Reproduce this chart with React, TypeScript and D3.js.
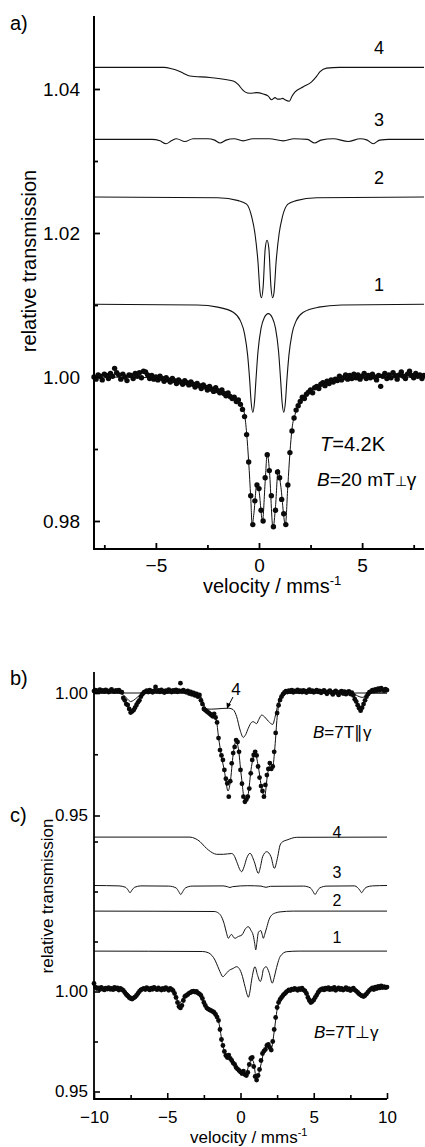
import { useEffect, useRef } from 'react'
import * as d3 from 'd3'

// Mössbauer spectra. Measured values are stored as (T - 1) x 10^4.
// velocity channels (mm/s)
const aVel = d3.range(161).map((i) => -8 + i * 0.1)
const bcVel = d3.range(201).map((i) => -10 + i * 0.1)

// panel a, T = 4.2 K, B = 20 mT
const aObs = [
  0, -3, 3, 1, -4, 4, 2, -2, 5, 1, 12, 6, 3, -3, 4, 0, -5, 3, 2, -2, 5, 1, 6, -1, 8, 7, 3, -2, 2, -3, 0,
  -4, 1, -2, -6, -1, -4, -7, -2, -5, -9, -4, -7, -10, -5, -8, -11, -7, -10, -14, -9,
  -12, -16, -11, -14, -18, -13, -17, -20, -15, -19, -22, -18, -23, -26, -22, -27, -30, -28, -34, -32,
  -38, -45, -55, -80, -118, -165, -205, -172, -150,
  -155, -185, -200, -140, -108, -130, -165, -208, -185, -132, -140, -170, -190, -205, -150, -105, -75, -57, -46, -40, -34,
  -28, -30, -24, -21, -18, -22, -15, -13, -16, -10, -8, -12, -6, -9, -4, -7, -3, -5, 1, -4,
  -1, 3, -3, 2, -2, 4, -1, 3, -3, 1, 5, -2, 2, -1, 4, 0, -4, 2, -13, 1,
  5, -2, 3, -1, 6, 2, -3, 3, 7, 1, -2, 4, 8, 2, -1, 5, 1, 3, -2, 2,
]
const aFit: [number, number][] = [
  [-8, 0], [-5, -1], [-4, -4], [-3, -9], [-2, -17], [-1.3, -27], [-0.9, -36], [-0.7, -52], [-0.6, -78],
  [-0.5, -118], [-0.4, -168], [-0.33, -206], [-0.25, -190], [-0.1, -148], [0, -158], [0.17, -200],
  [0.3, -145], [0.4, -106], [0.5, -128], [0.68, -210], [0.8, -180], [0.93, -128], [1.05, -150],
  [1.28, -205], [1.4, -150], [1.5, -105], [1.6, -72], [1.75, -52], [2, -35], [2.3, -26], [2.5, -20],
  [2.8, -14], [3.2, -9], [4, -4], [5, -1], [8, 0],
]
const aSub1: [number, number][] = [
  [-8, 101], [-3, 100], [-2, 97], [-1.25, 90], [-0.9, 78], [-0.7, 60], [-0.55, 30], [-0.45, -5],
  [-0.38, -35], [-0.3, -49], [-0.22, -35], [-0.15, -5], [-0.05, 35], [0.1, 68], [0.25, 82], [0.45, 88],
  [0.65, 82], [0.8, 68], [0.95, 35], [1.05, -5], [1.12, -35], [1.2, -49], [1.28, -35], [1.35, -5],
  [1.45, 30], [1.6, 60], [1.8, 78], [2.15, 90], [2.9, 97], [4, 100], [8, 101],
]
const aSub2: [number, number][] = [
  [-8, 250], [-2, 249], [-1, 245], [-0.6, 240], [-0.35, 222], [-0.2, 200], [-0.05, 160], [0.05, 118],
  [0.12, 110], [0.2, 125], [0.3, 178], [0.39, 190], [0.48, 178], [0.58, 125], [0.66, 110], [0.73, 118],
  [0.83, 160], [0.98, 200], [1.13, 222], [1.4, 240], [1.8, 245], [2.8, 249], [8, 250],
]
const aSub3: [number, number][] = [
  [-8, 330], [-5.2, 330], [-4.8, 328], [-4.51, 324], [-4.25, 328], [-4, 331], [-3.59, 327], [-3.2, 331],
  [-2.5, 331], [-2.15, 329], [-1.89, 325], [-1.6, 329], [-1.2, 331], [-0.77, 328], [-0.3, 331], [0.5, 331],
  [1.18, 328], [1.7, 331], [2.35, 330], [2.7, 325], [3, 329], [3.6, 331], [4.33, 327], [4.9, 331],
  [5.25, 329], [5.54, 324], [5.85, 329], [6.3, 330], [8, 330],
]
const aSub4: [number, number][] = [
  [-8, 430], [-4.6, 430], [-4.23, 428], [-3.9, 425], [-3.67, 422], [-3.35, 418], [-2.38, 416],
  [-1.25, 411], [-1, 406], [-0.8, 399], [-0.68, 396], [-0.44, 394], [-0.11, 395], [0.21, 393],
  [0.45, 390], [0.61, 385], [0.78, 388], [0.9, 386], [1.02, 386], [1.15, 387], [1.26, 385], [1.47, 383],
  [1.6, 390], [1.75, 396], [2.15, 403], [2.55, 410], [2.8, 418], [2.96, 424], [3.28, 429], [3.9, 430], [8, 430],
]

// panel b, B = 7 T parallel
const bObs = [
  8, 12, 5, 10, 14, 7, 11, 6, 13, 9, 4, 10, 15, 8, 6, 11, 7, 12, 5, 3,
  -20, -30, -45, -49, -65, -80, -75, -70, -60, -49, -38, -30, -15, -5, 2,
  6, 10, 4, 12, 8, 3, 9, 25, 7, 11, 5, 13, 8, 2, 10, 6, 14, 9, 4, 11, 7, 13, 5, 10, 40, 8, 12, 6, 3, 9,
  -2, 4, -6, 0, -10, -4, -15, -8,
  -30, -45, -65, -70, -75, -80, -85, -90, -95, -85, -100, -120,
  -184, -233, -255, -273, -314, -350, -369, -423, -360, -287, -245, -220, -192, -200, -240,
  -314, -370, -423, -444, -435, -423, -390, -328, -273, -253, -240, -255, -300, -345, -380,
  -400, -423, -375, -335, -310, -286, -310, -300, -240, -163, -82, -50, -29, -15, -5,
  2, 8, 4, 10, 6, 12, 3, 9, 7, 13, 5, 10, 4, 11, 8, 2, 9, 14, 6, 10, 3, 8, 12, 5, 9, 1, 7, 11, 4, -3,
  6, 10, 2, -6, 5, 9, 0, -8, 4, 8, -2, 6, -5, 3, 7, -4, 1,
  -10, -25, -35, -50, -62, -72, -60, -45, -30, -15, -5, 3,
  6, 12, 8, 15, 10, 18, 12, 20, 14, 10, 16, 12,
]
const bFit: [number, number][] = [
  [-10, 0], [-8.3, 0], [-8, -8], [-7.7, -25], [-7.5, -35], [-7.3, -30], [-7, -15], [-6.7, -3], [-6.3, 0],
  [-3, 0], [-2.8, -5], [-2.6, -30], [-2.4, -60], [-2.1, -75], [-1.9, -85], [-1.65, -110], [-1.5, -180],
  [-1.3, -258], [-1.1, -318], [-0.85, -400], [-0.7, -365], [-0.5, -250], [-0.3, -195], [-0.15, -225],
  [0.05, -335], [0.3, -440], [0.5, -420], [0.75, -300], [1, -245], [1.2, -295], [1.45, -390], [1.65, -420],
  [1.85, -330], [2.05, -290], [2.2, -300], [2.35, -220], [2.5, -100], [2.65, -40], [2.9, -12], [3.3, 0],
  [7.6, 0], [8, -12], [8.3, -18], [8.6, -12], [9, 0], [10, 0],
]
const bSub4: [number, number][] = [
  [-10, 0], [-3, 0], [-2.8, -8], [-2.6, -40], [-2.42, -65], [-2, -66], [-1.2, -63], [-0.8, -62],
  [-0.5, -68], [-0.26, -97], [-0.03, -151], [0.19, -181], [0.35, -170], [0.53, -144], [0.75, -120],
  [0.87, -117], [1, -122], [1.1, -125], [1.25, -108], [1.45, -90], [1.65, -98], [1.9, -115], [2.2, -128],
  [2.35, -100], [2.47, -69], [2.65, -22], [2.8, -6], [3, 0], [10, 0],
]

// panel c, B = 7 T perpendicular
const cObs = [
  40, 22, 15, 18, 10, 20, 14, 8, 17, 12, 19, 11, 16, 9, 21, 13, 18, 7, 15, 10,
  5, -5, -15, -22, -30, -35, -38, -33, -28, -20, -10, 0, 8, 12,
  16, 10, 19, 13, 8, 17, 11, 20, 14, 9, 18, 12, 7, 15, 10, 19, 13, 6, 16, 11, 4,
  -10, -30, -55, -75, -82, -70, -45, -25,
  -20, -15, -8, -5, 0, 2, -3, 1, -8, -12, -20, -35,
  -55, -70, -83, -88, -92, -96, -100, -105, -115, -128, -145,
  -190, -240, -270, -300, -320, -330, -318, -335, -345, -358, -365, -380, -388, -395,
  -402, -410, -398, -415, -420, -405, -365, -335, -330, -375,
  -425, -443, -420, -390, -345, -310, -298, -290, -270, -265,
  -280, -293, -250, -190, -130, -80, -55, -40, -30, -20,
  -12, -5, 2, 8, 5, 12, 9, 15, 11, 6, 14, 10, 17, 8, 3,
  -10, -30, -45, -55, -50, -42, -30, -18, -5, 5, 10,
  14, 8, 17, 12, 19, 9, 15, 11, 20, 6, 13, 18, 10, 16, 7, 12, 19, 9, 14, 5, 11, 17, 8, 2,
  -5, -12, -18, -22, -25, -20, -12, -3, 6,
  12, 18, 10, 22, 15, 25, 18, 28, 20, 24, 19, 22,
]
const cFit: [number, number][] = [
  [-10, 15], [-8.2, 15], [-7.8, 0], [-7.4, -25], [-7, -5], [-6.6, 14], [-4.8, 14], [-4.45, -15],
  [-4.18, -60], [-3.9, -30], [-3.5, -5], [-3, 2], [-2.7, -15], [-2.4, -65], [-2, -92], [-1.65, -115],
  [-1.45, -165], [-1.25, -255], [-1, -315], [-0.7, -335], [-0.3, -375], [0, -400], [0.35, -418],
  [0.65, -350], [0.85, -345], [1.1, -440], [1.35, -380], [1.6, -300], [1.9, -268], [2.1, -285],
  [2.3, -200], [2.5, -90], [2.7, -40], [3, -10], [3.4, 8], [4.4, 10], [4.85, -40], [5.2, -20],
  [5.6, 12], [7.8, 12], [8.3, -15], [8.7, 0], [9.2, 18], [10, 20],
]
const cSub1: [number, number][] = [
  [-10, 202], [-2.6, 200], [-2.2, 194], [-1.95, 180], [-1.74, 157], [-1.55, 125], [-1.4, 99], [-1.2, 74],
  [-1, 88], [-0.83, 102], [-0.49, 116], [-0.26, 124], [-0.05, 110], [0.08, 88], [0.31, 24], [0.45, -15],
  [0.53, -29], [0.62, -10], [0.76, 57], [0.99, 124], [1.15, 85], [1.35, 50], [1.45, 68], [1.56, 110],
  [1.75, 124], [1.95, 95], [2.17, 42], [2.3, 70], [2.42, 107], [2.6, 155], [2.7, 174], [3.15, 199],
  [4, 202], [10, 202],
]
const cSub2: [number, number][] = [
  [-10, 402], [-1.8, 400], [-1.5, 392], [-1.3, 374], [-1.1, 335], [-0.95, 291], [-0.83, 266], [-0.7, 280],
  [-0.6, 285], [-0.48, 272], [-0.38, 266], [-0.15, 275], [0.1, 283], [0.35, 315], [0.53, 324],
  [0.72, 305], [0.87, 280], [0.97, 240], [1.04, 208], [1.12, 245], [1.22, 295], [1.38, 305], [1.48, 285],
  [1.56, 266], [1.65, 285], [1.79, 320], [1.95, 360], [2.13, 382], [2.4, 393], [2.7, 398], [3.6, 402],
  [10, 402],
]
const cSub3: [number, number][] = [
  [-10, 530], [-8.3, 528], [-7.85, 521], [-7.68, 508], [-7.54, 494], [-7.4, 508], [-7.23, 521],
  [-6.8, 528], [-4.9, 527], [-4.4, 518], [-4.22, 500], [-4.08, 485], [-3.94, 500], [-3.76, 518],
  [-3.3, 527], [-1.2, 528], [-0.9, 524], [-0.72, 520], [-0.55, 524], [0.5, 529], [1.4, 527], [1.74, 521],
  [2.05, 526], [4.3, 527], [4.77, 518], [4.95, 500], [5.09, 485], [5.23, 500], [5.41, 518], [5.9, 527],
  [7.8, 528], [7.97, 521], [8.13, 508], [8.27, 494], [8.41, 508], [8.58, 521], [9, 528], [10, 530],
]
const cSub4: [number, number][] = [
  [-10, 772], [-3.45, 772], [-3.1, 765], [-2.76, 749], [-2.45, 725], [-2.2, 708], [-1.9, 693],
  [-1.63, 686], [-1.17, 686], [-0.6, 690], [-0.4, 675], [-0.26, 649], [0.08, 599], [0.25, 625],
  [0.42, 666], [0.65, 691], [0.94, 649], [1.22, 591], [1.38, 630], [1.51, 674], [1.79, 699], [2.08, 674],
  [2.31, 616], [2.54, 674], [2.7, 732], [2.9, 750], [3.15, 757], [3.84, 771], [10, 772],
]

// axis ticks
const aYTicks = [0.98, 1.0, 1.02, 1.04]
const aYMinor = [0.99, 1.01, 1.03]
const aXTicks = [-5, 0, 5]
const aXMinor = [-7.5, -2.5, 2.5, 7.5]
const bYTicks = [0.95, 1.0]
const bYMinor = [0.975]
const cYTicks = [0.95, 1.0]
const cYMinor = [0.975, 1.025, 1.05, 1.075]
const bcXTicks = [-10, -5, 0, 5, 10]
const bcXMinor = [-7.5, -2.5, 2.5, 7.5]
const subLabels = ['1', '2', '3', '4']

const FONT = '"Liberation Sans", Arial, Helvetica, sans-serif'
const T = (d: number) => 1 + d / 1e4

export default function App() {
  const ref = useRef<SVGSVGElement>(null)

  useEffect(() => {
    const svg = d3.select(ref.current)
    svg.selectAll('*').remove()
    svg.attr('font-family', FONT)

    const xA = d3.scaleLinear([-8, 8], [94, 424])
    const yA = d3.scaleLinear([0.98, 1.04], [521, 89])
    const xBC = d3.scaleLinear([-10, 10], [94, 387])
    const yB = d3.scaleLinear([0.95, 1.0], [815.5, 693])
    const yC = d3.scaleLinear([0.95, 1.0], [1091.5, 991.5])

    const curve = (g: any, pts: [number, number][], x: any, y: any, w = 1.1) => {
      const line = d3
        .line<[number, number]>()
        .x((p) => x(p[0]))
        .y((p) => y(T(p[1])))
        .curve(d3.curveMonotoneX)
      g.append('path')
        .attr('d', line(pts))
        .attr('fill', 'none')
        .attr('stroke', '#111')
        .attr('stroke-width', w)
    }

    const dots = (g: any, vel: number[], obs: number[], x: any, y: any, r: number) => {
      g.append('g')
        .selectAll('circle')
        .data(obs.slice(0, vel.length))
        .enter()
        .append('circle')
        .attr('cx', (_: number, i: number) => x(vel[i]))
        .attr('cy', (d: number) => y(T(d)))
        .attr('r', r)
        .attr('fill', '#0a0a0a')
    }

    const yTicks = (x0: number, scale: any, major: number[], minor: number[], pad: number, fs: number, sw: number) => {
      const g = svg.append('g').attr('transform', `translate(${x0},0)`)
      g.call(
        d3.axisLeft(scale).tickValues(major).tickSize(-6).tickPadding(pad).tickFormat(d3.format('.2f')) as any
      )
      g.append('g').call(d3.axisLeft(scale).tickValues(minor).tickSize(-4).tickFormat(() => '') as any)
      g.selectAll('.domain').remove()
      g.selectAll('line').attr('stroke', '#000').attr('stroke-width', sw)
      g.selectAll('text').attr('font-family', FONT).attr('font-size', fs).attr('fill', '#000')
    }

    const xTicks = (y0: number, scale: any, major: number[], minor: number[], pad: number, fs: number, sw: number) => {
      const g = svg.append('g').attr('transform', `translate(0,${y0})`)
      g.call(d3.axisBottom(scale).tickValues(major).tickSize(-6).tickPadding(pad).tickFormat(d3.format('d')) as any)
      g.append('g').call(d3.axisBottom(scale).tickValues(minor).tickSize(-4).tickFormat(() => '') as any)
      g.selectAll('.domain').remove()
      g.selectAll('line').attr('stroke', '#000').attr('stroke-width', sw)
      g.selectAll('text').attr('font-family', FONT).attr('font-size', fs).attr('fill', '#000')
    }

    const label = (x: number, y: number, txt: string, fs: number, anchor = 'start') =>
      svg
        .append('text')
        .attr('x', x)
        .attr('y', y)
        .attr('font-size', fs)
        .attr('text-anchor', anchor)
        .attr('fill', '#000')
        .text(txt)

    // ---------- panel a ----------
    const ga = svg.append('g')
    ;[aSub4, aSub3, aSub2, aSub1].forEach((s) => curve(ga, s, xA, yA, 1.1))
    curve(ga, aFit, xA, yA, 1)
    dots(ga, aVel, aObs, xA, yA, 2.7)

    svg
      .append('path')
      .attr('d', `M${xA(-8)},16V549H${xA(8)}`)
      .attr('fill', 'none')
      .attr('stroke', '#000')
      .attr('stroke-width', 2)
    yTicks(xA(-8), yA, aYTicks, aYMinor, 14, 19, 1.8)
    xTicks(549, xA, aXTicks, aXMinor, 10, 19, 1.8)

    const aSubs = [aSub1, aSub2, aSub3, aSub4]
    aSubs.forEach((s, i) => label(379, yA(T(s[s.length - 1][1])) - 13, subLabels[i], 18, 'middle'))

    label(10, 30, 'a)', 20)
    svg
      .append('text')
      .attr('transform', 'translate(36,261) rotate(-90)')
      .attr('text-anchor', 'middle')
      .attr('font-size', 20)
      .text('relative transmission')
    const xla = svg.append('text').attr('x', 203).attr('y', 593).attr('font-size', 20)
    xla.append('tspan').text('velocity / mms')
    xla.append('tspan').attr('dy', -8).attr('font-size', 13).text('-1')

    const ta = svg.append('text').attr('x', 320).attr('y', 451).attr('font-size', 20)
    ta.append('tspan').attr('font-style', 'italic').text('T')
    ta.append('tspan').text('=4.2K')
    const ba = svg.append('text').attr('x', 317).attr('y', 486).attr('font-size', 19)
    ba.append('tspan').attr('font-style', 'italic').text('B')
    ba.append('tspan').text('=20 mT')
    ba.append('tspan').attr('font-size', 14).text('\u22a5')
    ba.append('tspan').text('\u03b3')

    // ---------- panel b ----------
    const gb = svg.append('g')
    curve(gb, bSub4, xBC, yB, 1)
    curve(gb, bFit, xBC, yB, 1)
    dots(gb, bcVel, bObs, xBC, yB, 2.4)

    label(10, 685, 'b)', 20)
    label(236, 695, '4', 17, 'middle')
    svg
      .append('path')
      .attr('d', 'M233,697L228.5,705.5')
      .attr('stroke', '#000')
      .attr('stroke-width', 1)
    svg.append('path').attr('d', 'M227,709L226.5,702.5L231,704.5Z').attr('fill', '#000')
    const bb = svg.append('text').attr('x', 313).attr('y', 738).attr('font-size', 17)
    bb.append('tspan').attr('font-style', 'italic').text('B')
    bb.append('tspan').text('=7T\u2225\u03b3')

    // ---------- panel c ----------
    const gc = svg.append('g')
    ;[cSub4, cSub3, cSub2, cSub1].forEach((s) => curve(gc, s, xBC, yC, 1))
    curve(gc, cFit, xBC, yC, 1)
    dots(gc, bcVel, cObs, xBC, yC, 2.4)

    const cSubs = [cSub1, cSub2, cSub3, cSub4]
    const cLabelLift = [8, 5, 8, -1]
    cSubs.forEach((s, i) => label(337, yC(T(s[s.length - 1][1])) - cLabelLift[i], subLabels[i], 16, 'middle'))

    label(10, 822, 'c)', 20)
    const bc = svg.append('text').attr('x', 314).attr('y', 1038).attr('font-size', 17)
    bc.append('tspan').attr('font-style', 'italic').text('B')
    bc.append('tspan').text('=7T\u22a5\u03b3')

    svg
      .append('path')
      .attr('d', `M${xBC(-10)},672V1099H${xBC(10)}`)
      .attr('fill', 'none')
      .attr('stroke', '#000')
      .attr('stroke-width', 1.8)
    yTicks(xBC(-10), yB, bYTicks, bYMinor, 6, 17, 1.6)
    yTicks(xBC(-10), yC, cYTicks, cYMinor, 6, 17, 1.6)
    xTicks(1099, xBC, bcXTicks, bcXMinor, 12, 17, 1.6)

    svg
      .append('text')
      .attr('transform', 'translate(53,896) rotate(-90)')
      .attr('text-anchor', 'middle')
      .attr('font-size', 17)
      .text('relative transmission')
    const xlc = svg.append('text').attr('x', 190).attr('y', 1143).attr('font-size', 17)
    xlc.append('tspan').text('velocity / mms')
    xlc.append('tspan').attr('dy', -7).attr('font-size', 11).text('-1')
  }, [])

  return (
    <svg
      ref={ref}
      width={425}
      height={1147}
      style={{ position: 'absolute', left: 0, top: 0, background: '#fff' }}
    />
  )
}
